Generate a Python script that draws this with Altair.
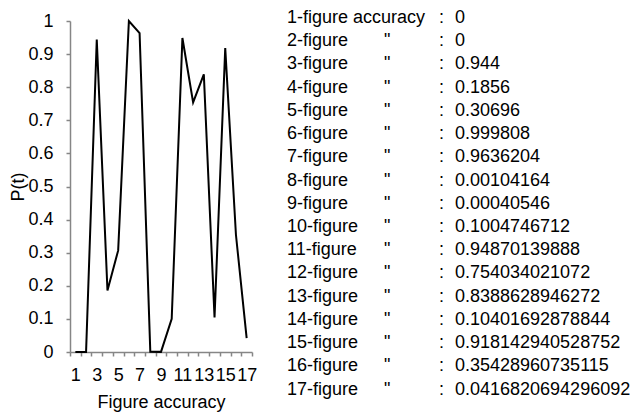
import altair as alt
import pandas as pd

FONT = "Liberation Sans, Arial, sans-serif"

figures = list(range(1, 18))
p_text = [
    "0", "0", "0.944", "0.1856", "0.30696", "0.999808", "0.9636204",
    "0.00104164", "0.00040546", "0.1004746712", "0.94870139888",
    "0.754034021072", "0.8388628946272", "0.10401692878844",
    "0.918142940528752", "0.35428960735115", "0.0416820694296092",
]
p_values = [float(s) for s in p_text]
row_labels = ["1-figure accuracy"] + [f"{n}-figure" for n in figures[1:]]
ditto_marks = [""] + ['"'] * 16
colons = [":"] * 17
y_ticks = [0, 0.1, 0.2, 0.3, 0.4, 0.5, 0.6, 0.7, 0.8, 0.9, 1]
table_columns = ["label", "ditto", "colon", "value"]

line_df = pd.DataFrame({"fig": figures, "p": p_values})
table_df = pd.DataFrame({
    "row": figures,
    "label": row_labels,
    "ditto": ditto_marks,
    "colon": colons,
    "value": p_text,
})

line = alt.Chart(line_df).mark_line(color="black", strokeWidth=2).encode(
    x=alt.X(
        "fig:O",
        scale=alt.Scale(type="band", paddingInner=0, paddingOuter=0),
        axis=alt.Axis(
            title="Figure accuracy",
            labelAngle=0,
            labelExpr="datum.value % 2 == 1 ? datum.label : ''",
            labelOverlap=False,
            tickBand="extent",
            labelPadding=10,
            titlePadding=9,
        ),
    ),
    y=alt.Y(
        "p:Q",
        scale=alt.Scale(domain=[0, 1], nice=False),
        axis=alt.Axis(
            values=y_ticks,
            format=".1~f",
            title="P(t)",
            labelPadding=13,
            titlePadding=0,
        ),
    ),
)

table = (
    alt.Chart(table_df)
    .transform_fold(table_columns, as_=["col", "txt"])
    .transform_calculate(col_i="indexof(['label','ditto','colon','value'], datum.col)")
    .mark_text(align="left", baseline="alphabetic", fontSize=18, font=FONT, color="black")
    .encode(
        x=alt.X("col_i:Q", scale=alt.Scale(domain=[0, 1, 2, 3], range=[217, 314, 369, 385]), axis=None),
        y=alt.Y("row:Q", scale=alt.Scale(domain=[1, 17], range=[2, 373.5]), axis=None),
        text="txt:N",
    )
)

chart = (
    alt.layer(line, table)
    .resolve_scale(x="independent", y="independent")
    .properties(
        width=182,
        height=331,
        autosize=alt.AutoSizeParams(type="none"),
        padding={"left": 62, "top": 13, "right": 380, "bottom": 64},
    )
    .configure_view(stroke=None)
    .configure_axis(
        grid=False,
        domainColor="#868686",
        domainWidth=1.5,
        tickColor="#868686",
        tickWidth=1.5,
        tickSize=4,
        labelFont=FONT,
        labelFontSize=18,
        labelColor="black",
        titleFont=FONT,
        titleFontSize=18,
        titleFontWeight="normal",
        titleColor="black",
    )
)

chart.save("out.html", embed_options={"renderer": "svg", "actions": False})
